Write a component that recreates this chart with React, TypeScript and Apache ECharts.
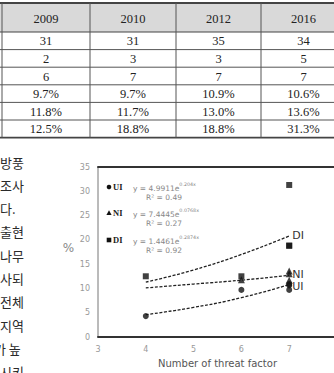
import React, { useEffect, useRef } from 'react';
import * as echarts from 'echarts';

// ---- table data ----
const years = ['2009', '2010', '2012', '2016'];
const rowA = [31, 31, 35, 34];
const rowB = [2, 3, 3, 5];
const threatFactors = [6, 7, 7, 7];
const uiPct = [9.7, 9.7, 10.9, 10.6];
const niPct = [11.8, 11.7, 13.0, 13.6];
const diPct = [12.5, 18.8, 18.8, 31.3];

// ---- earlier survey point (column cut off in the table) ----
const earlierFactor = 4;
const earlierUI = 4.3;
const earlierDI = 12.5;

// ---- trend lines ----
const trendX = [4, 5, 6, 7];
const uiTrend = [4.6, 6.1, 8.1, 10.8];
const niTrend = [10.1, 10.9, 11.7, 12.7];
const diTrend = [11.3, 13.8, 17.0, 20.8];

// ---- equation legend texts ----
const eqNames = ['UI', 'NI', 'DI'];
const eqCoef = ['4.9911', '7.4445', '1.4461'];
const eqExp = ['0.204x', '0.0768x', '0.2874x'];
const eqR2 = ['0.49', '0.27', '0.92'];

// ---- axis ----
const xMin = 3;
const xMax = 8;
const yMin = 0;
const yMax = 35;
const yStep = 5;

// ---- body text fragments on the left ----
const bodyLines = ['방풍', '조사', '다.', '출현', '나무', '사되', '전체', '지역', '가 높', '시키'];

export default function App() {
  const ref = useRef<HTMLDivElement>(null);
  useEffect(() => {
    if (!ref.current) return;
    const chart = echarts.init(ref.current, undefined, { renderer: 'svg' });

    const serif = '"Liberation Serif", "Times New Roman", serif';
    const sans = '"DejaVu Sans", Verdana, sans-serif';
    const cjk = '"Noto Sans CJK KR", sans-serif';

    // table geometry
    const colX = [2, 90, 176, 261, 346];
    const top = 3;
    const headBottom = 32;
    const rowH = 17.6;
    const rows: string[][] = [
      rowA.map(String),
      rowB.map(String),
      threatFactors.map(String),
      uiPct.map((v) => v.toFixed(1) + '%'),
      niPct.map((v) => v.toFixed(1) + '%'),
      diPct.map((v) => v.toFixed(1) + '%'),
    ];
    const tableBottom = headBottom + rowH * rows.length;
    const g: any[] = [];
    g.push({ type: 'rect', shape: { x: 0, y: top, width: 334, height: headBottom - top }, style: { fill: '#d9d9d9' }, silent: true });
    years.forEach((y, i) => {
      g.push({ type: 'text', style: { text: y, x: (colX[i] + colX[i + 1]) / 2, y: (top + headBottom) / 2 + 1, align: 'center', verticalAlign: 'middle', fontFamily: serif, fontSize: 12.5, fill: '#222' } });
    });
    rows.forEach((r, ri) => {
      const cy = headBottom + rowH * ri + rowH / 2 + 0.5;
      r.forEach((t, i) => {
        g.push({ type: 'text', style: { text: t, x: (colX[i] + colX[i + 1]) / 2, y: cy, align: 'center', verticalAlign: 'middle', fontFamily: serif, fontSize: 12.5, fill: '#222' } });
      });
    });
    g.push({ type: 'line', shape: { x1: 0, y1: top, x2: 334, y2: top }, style: { stroke: '#444', lineWidth: 2 } });
    g.push({ type: 'line', shape: { x1: 0, y1: headBottom, x2: 334, y2: headBottom }, style: { stroke: '#444', lineWidth: 1.2 } });
    for (let i = 1; i < rows.length; i++) {
      const yy = headBottom + rowH * i;
      g.push({ type: 'line', shape: { x1: 0, y1: yy, x2: 334, y2: yy }, style: { stroke: '#555', lineWidth: 1 } });
    }
    g.push({ type: 'line', shape: { x1: 0, y1: tableBottom, x2: 334, y2: tableBottom }, style: { stroke: '#444', lineWidth: 1.6 } });
    colX.slice(0, 4).forEach((x) => {
      g.push({ type: 'line', shape: { x1: x, y1: top, x2: x, y2: tableBottom }, style: { stroke: '#555', lineWidth: 1 } });
    });

    // body text
    bodyLines.forEach((t, i) => {
      g.push({ type: 'text', style: { text: t, x: t.startsWith('가') ? -6 : 0, y: 162 + i * 23.3, align: 'left', verticalAlign: 'middle', fontFamily: cjk, fontSize: 13, fill: '#2a2a2a' } });
    });

    // % axis name
    g.push({ type: 'text', style: { text: '%', x: 68.5, y: 248, align: 'center', verticalAlign: 'middle', fontFamily: sans, fontSize: 12, fill: '#888' } });

    // equation legend
    const legY = [187, 213, 240];
    eqNames.forEach((n, i) => {
      const y0 = legY[i];
      if (n === 'UI') g.push({ type: 'circle', shape: { cx: 109, cy: y0, r: 2.3 }, style: { fill: '#111' } });
      if (n === 'NI') g.push({ type: 'polygon', shape: { points: [[109, y0 - 2.8], [106.4, y0 + 2], [111.6, y0 + 2]] }, style: { fill: '#111' } });
      if (n === 'DI') g.push({ type: 'rect', shape: { x: 106.7, y: y0 - 2.3, width: 4.6, height: 4.6 }, style: { fill: '#111' } });
      g.push({ type: 'text', style: { text: n, x: 113, y: y0, align: 'left', verticalAlign: 'middle', fontFamily: serif, fontWeight: 'bold', fontSize: 8.5, fill: '#222' } });
      g.push({
        type: 'text',
        style: {
          text: '{a|y = ' + eqCoef[i] + 'e}{b|' + eqExp[i] + '}',
          x: 133, y: y0, align: 'left', verticalAlign: 'middle',
          rich: {
            a: { fontFamily: sans, fontSize: 7.5, fill: '#888', lineHeight: 10, verticalAlign: 'bottom' },
            b: { fontFamily: sans, fontSize: 4.8, fill: '#888', lineHeight: 10, verticalAlign: 'top' },
          },
        },
      });
      g.push({ type: 'text', style: { text: 'R² = ' + eqR2[i], x: 146, y: y0 + 10, align: 'left', verticalAlign: 'middle', fontFamily: sans, fontSize: 7.5, fill: '#888' } });
    });

    const uiPts = [[earlierFactor, earlierUI], ...threatFactors.map((f, i) => [f, uiPct[i]])];
    const niPts = threatFactors.map((f, i) => [f, niPct[i]]);
    const diPts = [[earlierFactor, earlierDI], ...threatFactors.map((f, i) => [f, diPct[i]])];

    const trend = (vals: number[], name: string, dy: number) => ({
      type: 'line',
      data: trendX.map((x, i) => [x, vals[i]]),
      smooth: true,
      symbol: 'none',
      lineStyle: { color: '#222', width: 1.3, type: [3, 1.6] },
      endLabel: { show: true, formatter: name, distance: 3, offset: [0, dy], color: '#333', fontFamily: sans, fontSize: 11 },
      labelLayout: { hideOverlap: false },
      z: 2,
      silent: true,
    });
    const scatter = (pts: number[][], symbol: string, size: number) => ({
      type: 'scatter',
      data: pts,
      symbol,
      symbolSize: size,
      itemStyle: { color: '#111' },
      z: 3,
      silent: true,
    });

    chart.setOption({
      animation: false,
      backgroundColor: '#fff',
      grid: { left: 98, top: 167, width: 239, height: 170, show: true, borderColor: '#777', borderWidth: 1, outerBoundsMode: 'none', containLabel: false },
      xAxis: [
        {
          type: 'value', min: xMin, max: xMax, interval: 1,
          axisLine: { show: true, lineStyle: { color: '#333', width: 2 } },
          axisTick: { show: false }, splitLine: { show: false },
          axisLabel: { color: '#999', fontFamily: sans, fontSize: 8, margin: 8, showMaxLabel: false },
          name: 'Number of threat factor', nameLocation: 'middle', nameGap: 21,
          nameTextStyle: { color: '#555', fontFamily: sans, fontSize: 10 },
        },
        {
          type: 'value', min: xMin, max: xMax, interval: 1, position: 'top',
          axisLine: { show: true, lineStyle: { color: '#333', width: 2 } },
          axisTick: { show: false }, splitLine: { show: false }, axisLabel: { show: false },
        },
      ],
      yAxis: {
        type: 'value', min: yMin, max: yMax, interval: yStep,
        axisLine: { show: false }, axisTick: { show: false }, splitLine: { show: false },
        axisLabel: { color: '#999', fontFamily: sans, fontSize: 8, margin: 8 },
      },
      series: [
        trend(diTrend, 'DI', 0),
        trend(niTrend, 'NI', -1),
        trend(uiTrend, 'UI', 1.5),
        scatter(diPts, 'rect', 6),
        scatter(niPts, 'triangle', 7),
        scatter(uiPts, 'circle', 6),
      ],
      graphic: g,
    });
    return () => chart.dispose();
  }, []);
  return <div ref={ref} style={{ position: 'fixed', left: 0, top: 0, width: 334, height: 373, background: '#fff' }} />;
}
